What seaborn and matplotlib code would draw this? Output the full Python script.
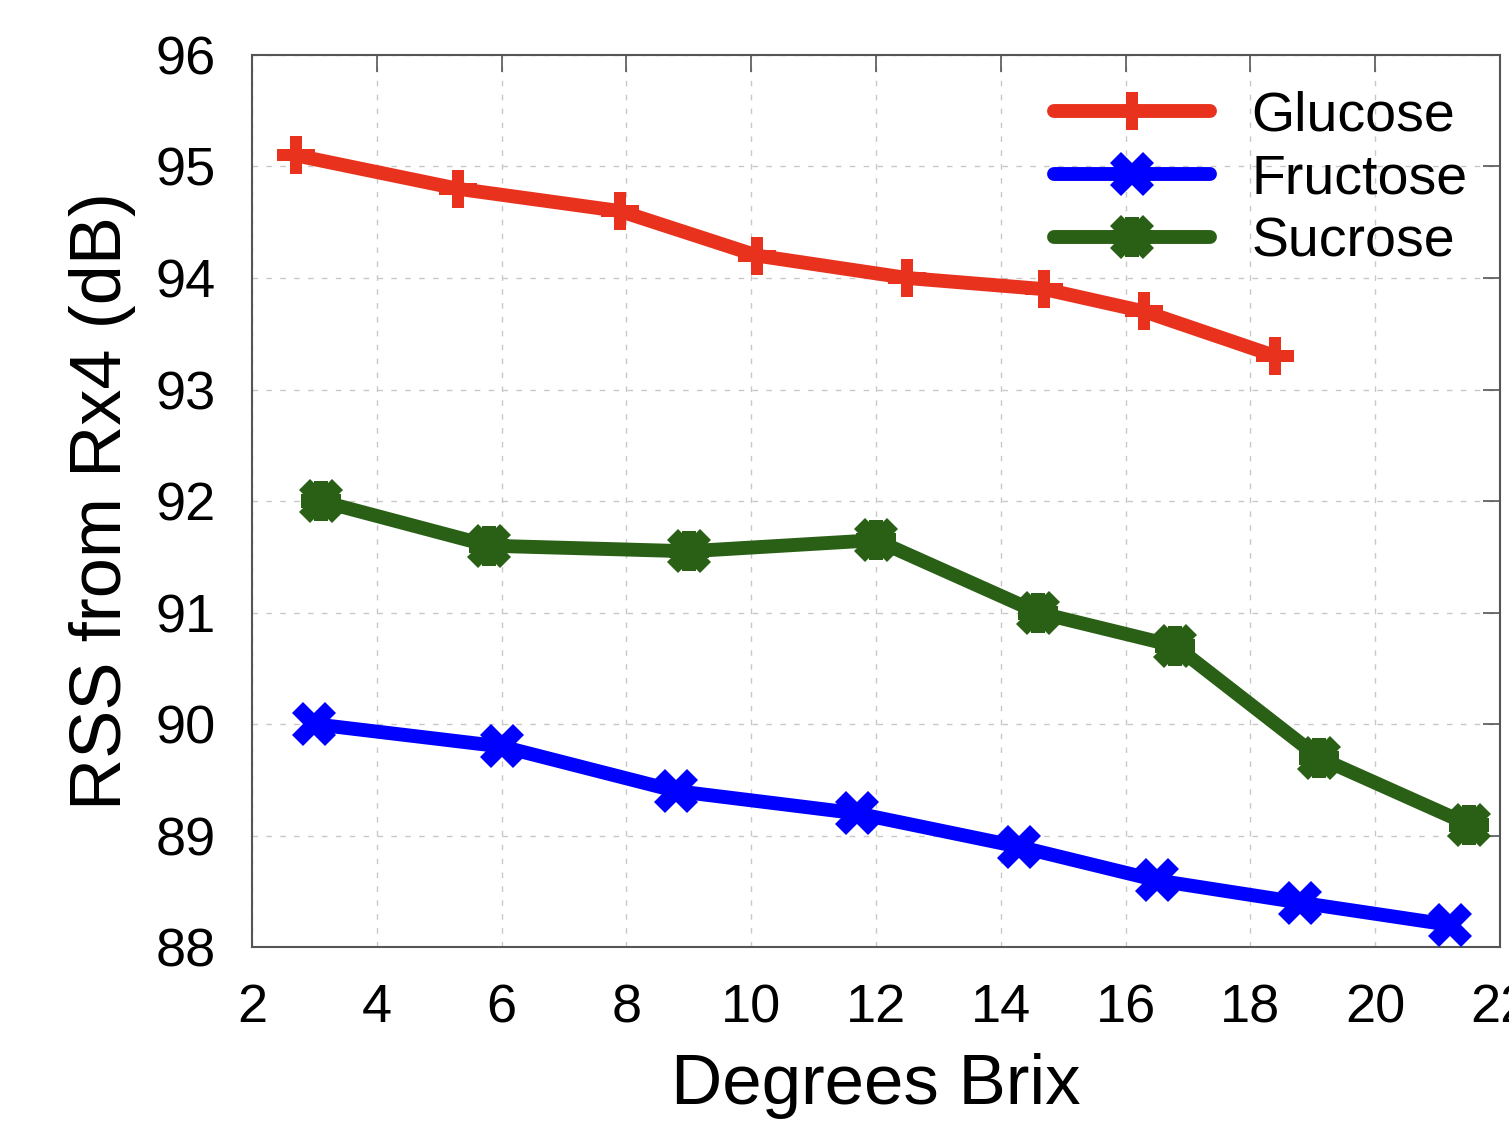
import numpy as np
import pandas as pd
import seaborn as sns
import matplotlib.pyplot as plt
from matplotlib.lines import Line2D

# values
glucose_x = [2.7, 5.3, 7.9, 10.1, 12.5, 14.7, 16.3, 18.4]
glucose_y = [95.1, 94.8, 94.6, 94.2, 94.0, 93.9, 93.7, 93.3]
fructose_x = [3.0, 6.0, 8.8, 11.7, 14.3, 16.5, 18.8, 21.2]
fructose_y = [90.0, 89.8, 89.4, 89.2, 88.9, 88.6, 88.4, 88.2]
sucrose_x = [3.1, 5.8, 9.0, 12.0, 14.6, 16.8, 19.1, 21.5]
sucrose_y = [92.0, 91.6, 91.55, 91.65, 91.0, 90.7, 89.7, 89.1]

x_ticks = [2, 4, 6, 8, 10, 12, 14, 16, 18, 20, 22]
y_ticks = [88, 89, 90, 91, 92, 93, 94, 95, 96]

sns.set_style("white")
plt.rcParams['font.family'] = ['Liberation Sans', 'DejaVu Sans']
plt.rcParams['text.color'] = 'black'
plt.rcParams['axes.labelcolor'] = 'black'

fig = plt.figure(figsize=(15.09, 11.21), dpi=100)
ax = fig.add_axes([0.167, 0.155, 0.827, 0.796])

red, blue, green = '#e8321e', '#0000ff', '#2a5f16'
lw = 10

sns.lineplot(x=glucose_x, y=glucose_y, ax=ax, color=red, lw=lw, marker='P',
             markersize=27, markeredgewidth=0, zorder=3)
sns.lineplot(x=fructose_x, y=fructose_y, ax=ax, color=blue, lw=lw, marker='X',
             markersize=32, markeredgewidth=0, zorder=3)
sns.lineplot(x=sucrose_x, y=sucrose_y, ax=ax, color=green, lw=lw, marker='X',
             markersize=32, markeredgewidth=0, zorder=3)
sns.scatterplot(x=sucrose_x, y=sucrose_y, ax=ax, color=green, marker='P',
                s=850, linewidth=0, zorder=4)

ax.set_xlim(2, 22)
ax.set_ylim(88, 96)
ax.set_xticks(x_ticks)
ax.set_yticks(y_ticks)
ax.grid(True, color='#c8c8c8', linestyle=(0, (4, 6)), linewidth=1.0)
for s in ax.spines.values():
    s.set_visible(True)
    s.set_color('#555555')
    s.set_linewidth(1.5)
ax.tick_params(direction='in', length=12, width=1.2, color='#555555',
               labelcolor='black', top=True, right=True, labelsize=39, pad=26)

ax.set_xlabel('Degrees Brix', fontsize=51, labelpad=14)
ax.set_ylabel('RSS from Rx4 (dB)', fontsize=52, labelpad=14)

handles = [
    Line2D([], [], color=red, lw=lw, marker='P', markersize=27, markeredgewidth=0),
    Line2D([], [], color=blue, lw=lw, marker='X', markersize=32, markeredgewidth=0),
    (Line2D([], [], color=green, lw=lw, marker='X', markersize=32, markeredgewidth=0),
     Line2D([], [], color=green, lw=0, marker='P', markersize=29, markeredgewidth=0)),
]
ax.legend(handles, ['Glucose', 'Fructose', 'Sucrose'], loc='upper right',
          fontsize=40, frameon=False, handlelength=2.8, handletextpad=0.75,
          labelspacing=0.2, borderaxespad=0.3, bbox_to_anchor=(1.005, 1.004))

fig.savefig('out.png', dpi=100)
